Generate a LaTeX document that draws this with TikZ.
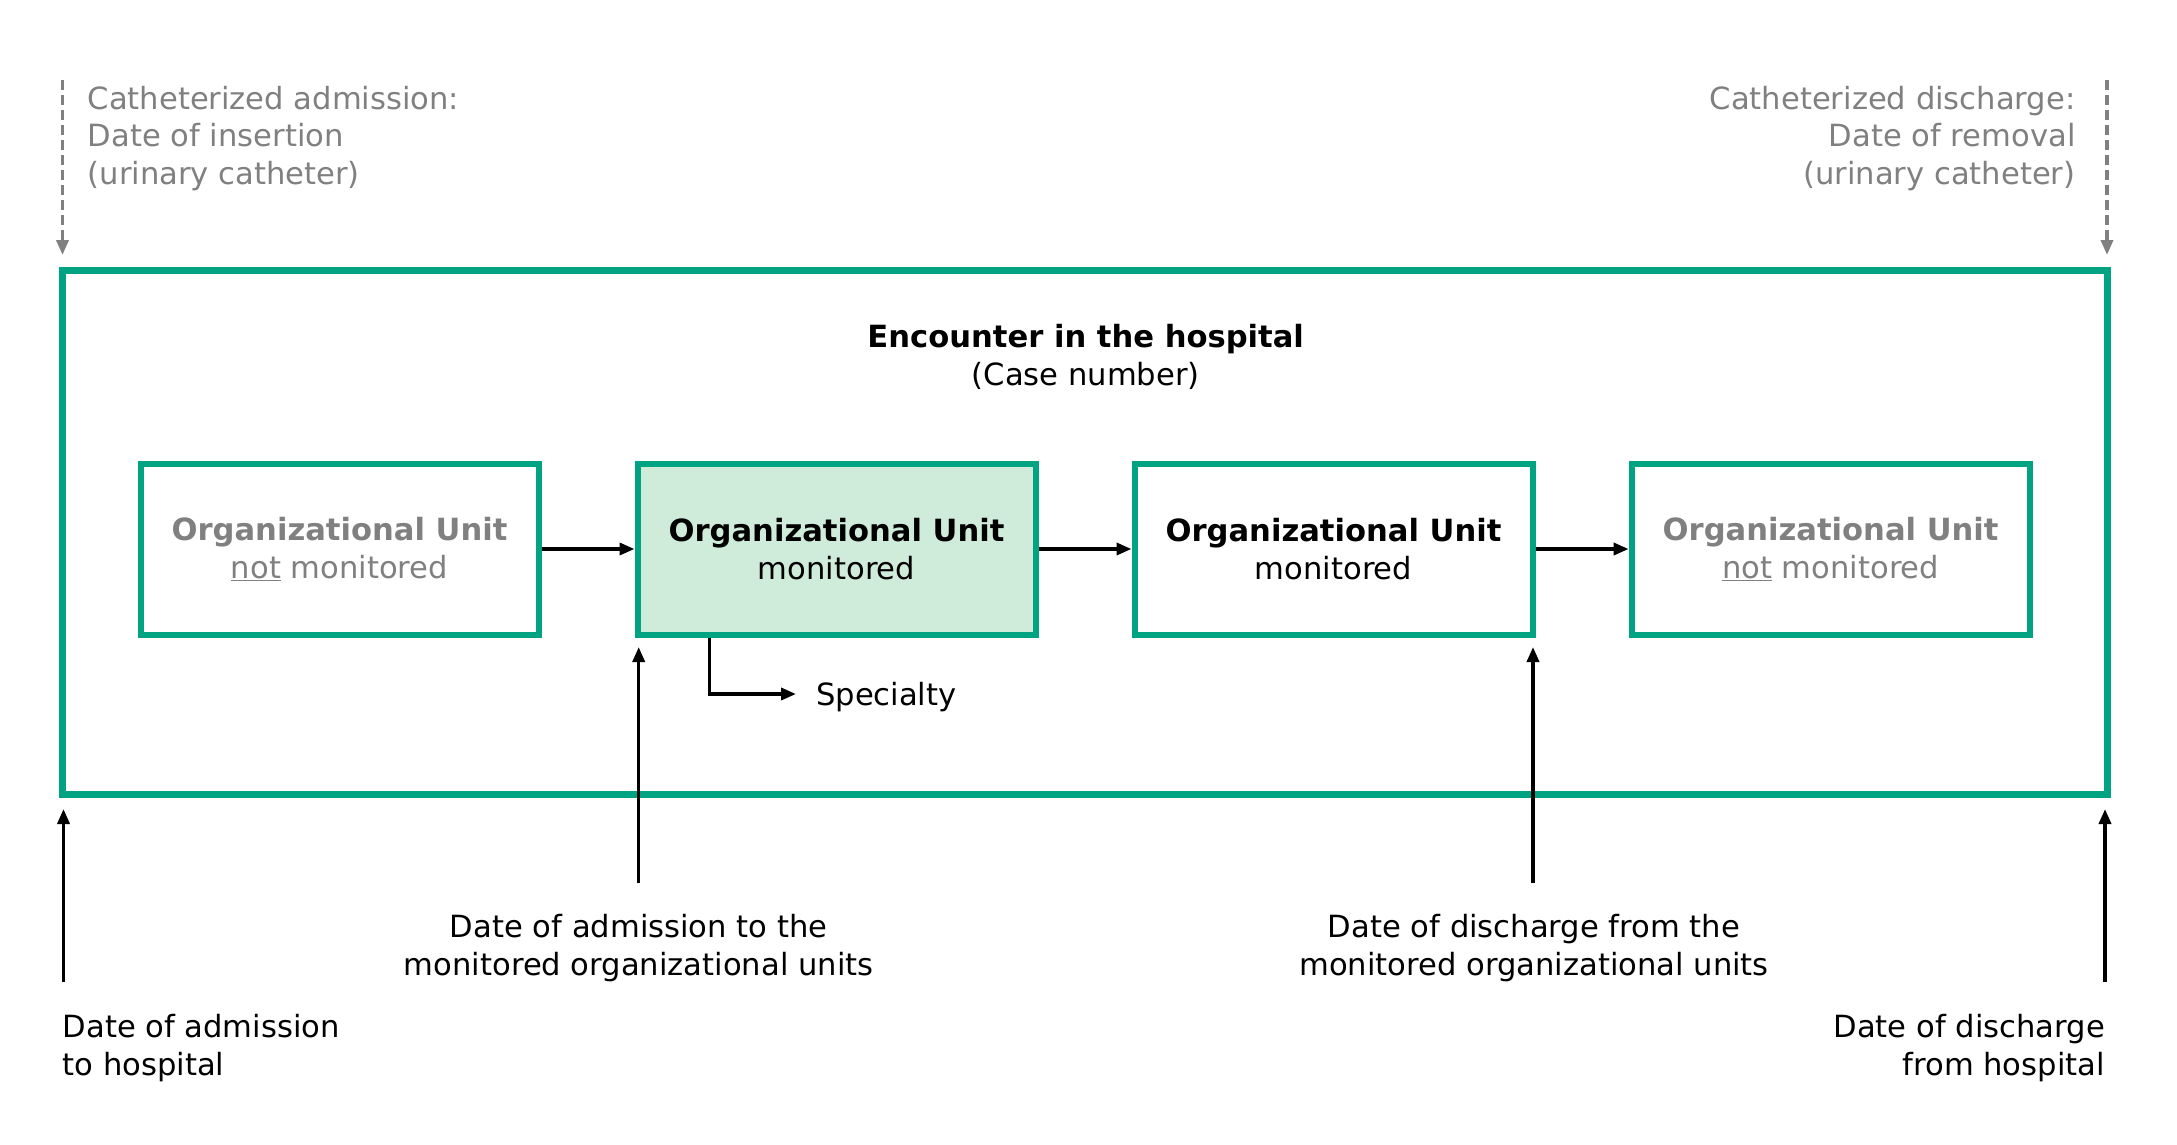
\documentclass[tikz,border=0pt]{standalone}
\usepackage{fontspec}
\setmainfont{DejaVu Sans}
\usetikzlibrary{arrows.meta}
\definecolor{hgreen}{RGB}{0,163,130}
\definecolor{hfill}{RGB}{207,235,217}
\definecolor{hgrey}{RGB}{128,128,128}
\tikzset{
  txt/.style={font=\fontsize{30.6}{37.5}\selectfont, inner sep=0pt},
  unitbox/.style={draw=hgreen, line width=6pt, minimum width=398pt, minimum height=171pt, align=center, txt},
  tip/.style={-{Triangle[length=15pt,width=12pt]}},
  flow/.style={line width=3.5pt, tip},
  dashflow/.style={hgrey, line width=3.5pt, dash pattern=on 10pt off 5pt, tip}
}
\begin{document}
\begin{tikzpicture}[x=1pt,y=-1pt]
\useasboundingbox (0,0) rectangle (2177,1144);
% outer encounter box
\node[draw=hgreen, line width=7pt, minimum width=2045pt, minimum height=523.5pt, inner sep=0pt] (enc) at (1085,532.5) {};
\node[txt, align=center] (title) at (1085.7,357) {\textbf{Encounter in the hospital}\\(Case number)};
% units
\node[unitbox, text=hgrey] (u1) at (339.5,549) {\textbf{Organizational Unit}\\\underline{not} monitored};
\node[unitbox, fill=hfill] (u2) at (836.5,549) {\textbf{Organizational Unit}\\monitored};
\node[unitbox] (u3) at (1333.5,549) {\textbf{Organizational Unit}\\monitored};
\node[unitbox, text=hgrey] (u4) at (1830.6,549) {\textbf{Organizational Unit}\\\underline{not} monitored};
\draw[flow] (u1.east) -- (u2.west);
\draw[flow] (u2.east) -- (u3.west);
\draw[flow] (u3.east) -- (u4.west);
% specialty
\node[txt, anchor=west] (spec) at (816,697) {Specialty};
\coordinate (specend) at (796,694);
\draw[flow] (u2.south -| 709.5,0) -- (709.5,694) -- (specend);
% top catheter labels
\node[txt, text=hgrey, align=left, anchor=north west] (cin) at (87.5,86) {Catheterized admission:\\Date of insertion\\(urinary catheter)};
\node[txt, text=hgrey, align=right, anchor=north east] (cout) at (2075.7,86) {Catheterized discharge:\\Date of removal\\(urinary catheter)};
\coordinate (cinA) at (62.5,80);
\coordinate (cinB) at (62.5,255);
\coordinate (coutA) at (2107,80);
\coordinate (coutB) at (2107,255);
\draw[dashflow] (cinA) -- (cinB);
\draw[dashflow] (coutA) -- (coutB);
% bottom labels
\node[txt, align=center, anchor=north] (admu) at (638.7,914.5) {Date of admission to the\\monitored organizational units};
\node[txt, align=center, anchor=north] (disu) at (1534,914.5) {Date of discharge from the\\monitored organizational units};
\node[txt, align=left, anchor=north west] (admh) at (62.5,1014.5) {Date of admission\\to hospital};
\node[txt, align=right, anchor=north east] (dish) at (2105,1014.5) {Date of discharge\\from hospital};
\coordinate (admuA) at (638.7,883);
\coordinate (admuB) at (638.7,647);
\coordinate (disuA) at (1533,883);
\coordinate (disuB) at (1533,647);
\coordinate (admhA) at (63.5,982);
\coordinate (admhB) at (63.5,809);
\coordinate (dishA) at (2105,982);
\coordinate (dishB) at (2105,809);
\draw[flow] (admuA) -- (admuB);
\draw[flow] (disuA) -- (disuB);
\draw[flow] (admhA) -- (admhB);
\draw[flow] (dishA) -- (dishB);
\end{tikzpicture}
\end{document}
